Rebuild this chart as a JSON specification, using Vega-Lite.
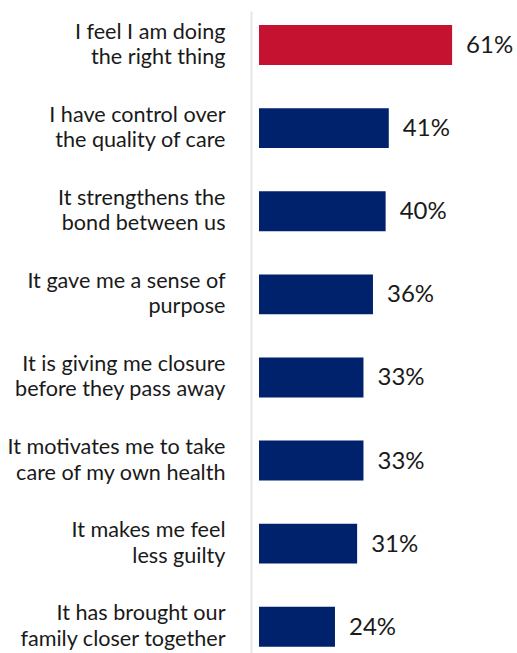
{
  "$schema": "https://vega.github.io/schema/vega-lite/v6.json",
  "width": 258,
  "height": 642,
  "autosize": {"type": "none"},
  "padding": {"left": 259, "top": 11, "right": 0, "bottom": 0},
  "background": "white",
  "data": {"values": [
    {"reason": "I feel I am doing|the right thing", "pct": 0.61, "highlight": "yes"},
    {"reason": "I have control over|the quality of care", "pct": 0.41, "highlight": "no"},
    {"reason": "It strengthens the|bond between us", "pct": 0.40, "highlight": "no"},
    {"reason": "It gave me a sense of|purpose", "pct": 0.36, "highlight": "no"},
    {"reason": "It is giving me closure|before they pass away", "pct": 0.33, "highlight": "no"},
    {"reason": "It motivates me to take|care of my own health", "pct": 0.33, "highlight": "no"},
    {"reason": "It makes me feel|less guilty", "pct": 0.31, "highlight": "no"},
    {"reason": "It has brought our|family closer together", "pct": 0.24, "highlight": "no"}
  ]},
  "encoding": {
    "y": {
      "field": "reason", "type": "nominal", "sort": null,
      "scale": {"paddingInner": 0.52, "paddingOuter": 0.123, "align": 0.69},
      "axis": {
        "title": null, "ticks": false, "offset": 8,
        "domainColor": "#e6e6e6", "domainWidth": 2,
        "labelExpr": "split(datum.value, '|')",
        "labelFont": "Lato", "labelFontSize": 21.6, "labelColor": "#1a1a1a",
        "labelLineHeight": 25.5, "labelOffset": -12.5, "labelPadding": 26, "labelLimit": 300
      }
    },
    "x": {
      "field": "pct", "type": "quantitative",
      "scale": {"domain": [0, 0.815], "nice": false},
      "axis": null
    }
  },
  "layer": [
    {
      "mark": {"type": "bar"},
      "encoding": {
        "color": {
          "field": "highlight", "type": "nominal",
          "scale": {"domain": ["yes", "no"], "range": ["#C41230", "#00216B"]},
          "legend": null
        }
      }
    },
    {
      "mark": {"type": "text", "align": "left", "baseline": "middle", "dx": 14, "dy": 1, "font": "Lato", "fontSize": 24, "color": "#1a1a1a"},
      "encoding": {"text": {"field": "pct", "type": "quantitative", "format": ".0%"}}
    }
  ],
  "config": {"view": {"stroke": null}}
}
